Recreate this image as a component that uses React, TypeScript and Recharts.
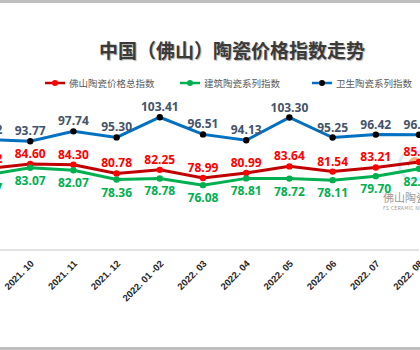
import { LabelList, Line, LineChart, XAxis, YAxis } from "recharts";

// 2021.09 sits just off the left edge of the picture
const months = [
  "2021. 09",
  "2021. 10",
  "2021. 11",
  "2021. 12",
  "2022. 01 -02",
  "2022. 03",
  "2022. 04",
  "2022. 05",
  "2022. 06",
  "2022. 07",
  "2022. 08",
];
const totalIndex = [82.72, 84.6, 84.3, 80.78, 82.25, 78.99, 80.99, 83.64, 81.54, 83.21, 85.44];
const buildingIndex = [80.27, 83.07, 82.07, 78.36, 78.78, 76.08, 78.81, 78.72, 78.11, 79.7, 82.71];
const sanitaryIndex = [94.42, 93.77, 97.74, 95.3, 103.41, 96.51, 94.13, 103.3, 95.25, 96.42, 96.35];

const SERIES = [
  { key: "total", name: "佛山陶瓷价格总指数", line: "#c00000", dot: "#ff0000", label: "#ff0000", below: false },
  { key: "building", name: "建筑陶瓷系列指数", line: "#00b050", dot: "#00b050", label: "#00b050", below: true },
  { key: "sanitary", name: "卫生陶瓷系列指数", line: "#0070c0", dot: "#000000", label: "#44546a", below: false },
];

const data = months.map((month, i) => ({
  month,
  total: totalIndex[i],
  building: buildingIndex[i],
  sanitary: sanitaryIndex[i],
}));

const LEGEND_POS = [45, 180, 312];

function makeLabel(color: string, below: boolean) {
  return (props: any) => {
    const { x, y, value } = props;
    return (
      <text
        x={x}
        y={below ? y + 17 : y - 6}
        textAnchor="middle"
        fill={color}
        fontSize={12}
        fontWeight={700}
        fontFamily="'Open Sans', sans-serif"
      >
        {Number(value).toFixed(2)}
      </text>
    );
  };
}

function MonthTick(props: any) {
  const { x, y, payload } = props;
  return (
    <g transform={`translate(${x + 2},${y + 4})`}>
      <text
        x={0}
        y={0}
        dy="0.35em"
        transform="rotate(-45)"
        textAnchor="end"
        fill="#262626"
        fontSize={9.5}
        fontWeight={700}
        fontFamily="'Liberation Sans', sans-serif"
      >
        {payload.value}
      </text>
    </g>
  );
}

export default function App() {
  return (
    <div
      style={{
        position: "fixed",
        left: 0,
        top: 0,
        width: 420,
        height: 350,
        overflow: "hidden",
        background: "#fff",
      }}
    >
      <div style={{ position: "absolute", left: 0, top: 0, width: 420, height: 3, background: "#bfbfbf" }} />
      <div style={{ position: "absolute", left: 0, bottom: 0, width: 420, height: 3, background: "#bfbfbf" }} />

      {/* watermark */}
      <div
        style={{
          position: "absolute",
          left: 398,
          top: 149,
          width: 32,
          height: 32,
          borderRadius: "50%",
          border: "3px solid #d6ecf8",
          boxSizing: "border-box",
        }}
      />
      <div
        style={{
          position: "absolute",
          left: 408,
          top: 157,
          width: 14,
          height: 14,
          borderRadius: "50%",
          borderTop: "4px solid #f4b183",
          boxSizing: "border-box",
          transform: "rotate(-30deg)",
        }}
      />
      <div
        style={{
          position: "absolute",
          left: 383,
          top: 190,
          whiteSpace: "nowrap",
          color: "#9a9a9a",
          fontFamily: "'Noto Sans CJK SC', sans-serif",
          fontSize: 11,
          lineHeight: "14px",
        }}
      >
        佛山陶瓷网
        <div style={{ fontSize: 5, lineHeight: "7px", letterSpacing: 0.3 }}>FS CERAMIC NET</div>
      </div>

      <div
        style={{
          position: "absolute",
          left: 0,
          top: 37,
          width: 464,
          textAlign: "center",
          fontFamily: "'Noto Sans CJK SC', sans-serif",
          fontSize: 19,
          fontWeight: 700,
          lineHeight: "26px",
          color: "#3a3a3a",
          textShadow: "1px 1px 1px #b0b0b0",
        }}
      >
        中国（佛山）陶瓷价格指数走势
      </div>

      {SERIES.map((s, i) => (
        <div
          key={s.key}
          style={{
            position: "absolute",
            left: LEGEND_POS[i],
            top: 76,
            display: "flex",
            alignItems: "center",
            whiteSpace: "nowrap",
            fontFamily: "'Noto Sans CJK SC', sans-serif",
            fontSize: 9.5,
            color: "#595959",
            lineHeight: "14px",
          }}
        >
          <svg width={20} height={8} style={{ marginRight: 4 }}>
            <line x1={0} y1={4} x2={20} y2={4} stroke={s.line} strokeWidth={2.5} />
            <circle cx={10} cy={4} r={3} fill={s.dot} />
          </svg>
          {s.name}
        </div>
      ))}

      <div style={{ position: "absolute", left: -13, top: 0 }}>
        <LineChart width={452} height={350} data={data} margin={{ top: 76, right: 20, left: 0, bottom: 0 }}>
          <XAxis
            dataKey="month"
            height={100}
            interval={0}
            tickLine={false}
            axisLine={{ stroke: "#d9d9d9", strokeWidth: 1.5 }}
            tick={<MonthTick />}
          />
          <YAxis hide domain={[50, 120]} />
          {SERIES.map((s) => (
            <Line
              key={s.key}
              type="linear"
              dataKey={s.key}
              name={s.name}
              stroke={s.line}
              strokeWidth={3}
              dot={{ r: 3.2, fill: s.dot, stroke: s.dot, strokeWidth: 0 }}
              isAnimationActive={false}
            >
              <LabelList dataKey={s.key} content={makeLabel(s.label, s.below)} />
            </Line>
          ))}
        </LineChart>
      </div>
    </div>
  );
}
